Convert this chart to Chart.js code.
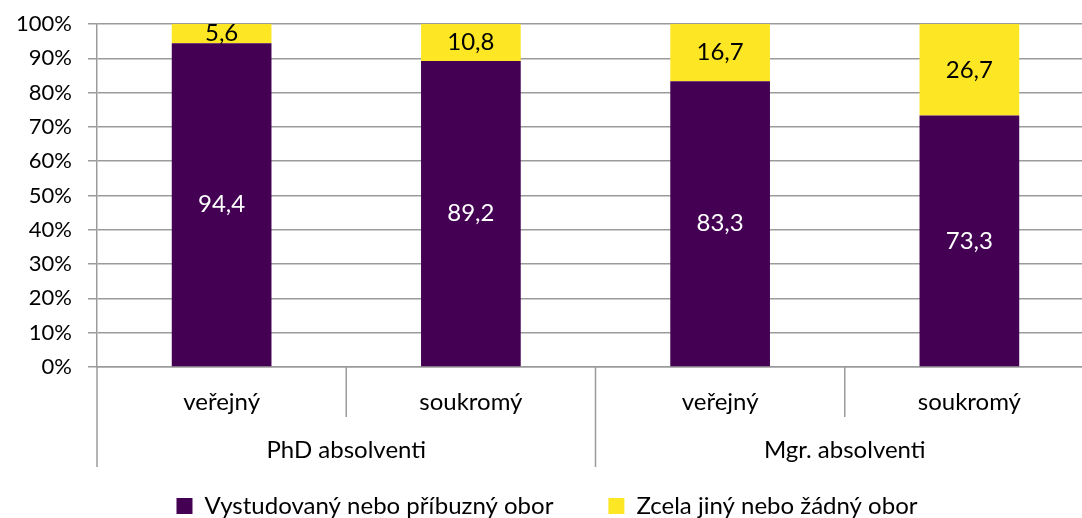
<!DOCTYPE html>
<html>
<head>
<meta charset="utf-8">
<script src="https://cdn.jsdelivr.net/npm/chart.js@4/dist/chart.umd.min.js"></script>
<style>
  html, body { margin: 0; padding: 0; background: #fff; overflow: hidden; }
  #wrap { position: relative; width: 1094px; height: 528px; }
</style>
</head>
<body>
<div id="wrap"><canvas id="chartBar"></canvas></div>
<script>
// Data
const categories = ["veřejný", "soukromý", "veřejný", "soukromý"];
const groups = ["PhD absolventi", "Mgr. absolventi"];
const seriesNames = ["Vystudovaný nebo příbuzný obor", "Zcela jiný nebo žádný obor"];
const relatedField = [94.4, 89.2, 83.3, 73.3];
const otherField = [5.6, 10.8, 16.7, 26.7];

const FONT = "Lato, 'Liberation Sans', sans-serif";
const gridColor = "#9b9b9b";

// Value labels inside the bar segments
const valueLabels = {
  id: "valueLabels",
  afterDatasetsDraw(chart) {
    const ctx = chart.ctx;
    ctx.save();
    ctx.font = "24px " + FONT;
    ctx.textAlign = "center";
    ctx.textBaseline = "middle";
    chart.data.datasets.forEach((ds, i) => {
      chart.getDatasetMeta(i).data.forEach((bar, j) => {
        const c = bar.getCenterPoint();
        ctx.fillStyle = i === 0 ? "#ffffff" : "#000000";
        ctx.fillText(ds.data[j].toFixed(1).replace(".", ","), c.x, c.y);
      });
    });
    ctx.restore();
  },
};

// Two-level category axis: separators + group labels
const groupAxis = {
  id: "groupAxis",
  afterDraw(chart) {
    const ctx = chart.ctx;
    const x = chart.scales.x;
    const area = chart.chartArea;
    const n = categories.length;
    ctx.save();
    ctx.strokeStyle = gridColor;
    ctx.lineWidth = 1.5;
    for (let i = 0; i <= n; i++) {
      let px;
      if (i === 0) px = area.left;
      else if (i === n) px = area.right;
      else px = (x.getPixelForValue(i - 1) + x.getPixelForValue(i)) / 2;
      const len = i % 2 === 0 ? 100 : 50;
      ctx.beginPath();
      ctx.moveTo(px, area.bottom);
      ctx.lineTo(px, area.bottom + len);
      ctx.stroke();
    }
    ctx.font = "24px " + FONT;
    ctx.fillStyle = "#000";
    ctx.textAlign = "center";
    ctx.textBaseline = "middle";
    groups.forEach((g, k) => {
      const cx = (x.getPixelForValue(2 * k) + x.getPixelForValue(2 * k + 1)) / 2;
      ctx.fillText(g, cx, area.bottom + 83);
    });
    ctx.restore();
  },
};

const ctxBar = document.getElementById("chartBar").getContext("2d");

new Chart(ctxBar, {
  type: "bar",
  data: {
    labels: categories,
    datasets: [
      {
        label: seriesNames[0],
        data: relatedField,
        backgroundColor: "#440154",
      },
      {
        label: seriesNames[1],
        data: otherField,
        backgroundColor: "#fde725",
      },
    ],
  },
  options: {
    responsive: true,
    maintainAspectRatio: false,
    animation: false,
    categoryPercentage: 1,
    barPercentage: 0.4,
    layout: {
      padding: { top: 24, right: 0, bottom: 0, left: 0 },
    },
    scales: {
      x: {
        stacked: true,
        grid: { display: false },
        border: { display: true, color: gridColor, width: 1.5 },
        ticks: {
          color: "#000",
          font: { family: FONT, size: 24 },
          padding: 13,
          maxRotation: 0,
        },
        afterFit(s) {
          s.height = 72;
        },
      },
      y: {
        stacked: true,
        min: 0,
        max: 100,
        ticks: {
          stepSize: 10,
          color: "#000",
          font: { family: FONT, size: 22 },
          padding: 16,
          callback: (v) => v + "%",
        },
        grid: {
          color: gridColor,
          lineWidth: 1.5,
          tickLength: 9,
        },
        border: { display: true, color: gridColor, width: 1.5 },
        afterFit(s) {
          s.width = 97;
          s.paddingTop = 0;
          s.paddingBottom = 0;
        },
      },
    },
    plugins: {
      legend: {
        position: "bottom",
        labels: {
          color: "#000",
          font: { family: FONT, size: 24 },
          boxWidth: 16,
          boxHeight: 16,
          padding: 55,
        },
      },
      tooltip: { enabled: false },
    },
  },
  plugins: [valueLabels, groupAxis],
});
</script>
</body>
</html>
